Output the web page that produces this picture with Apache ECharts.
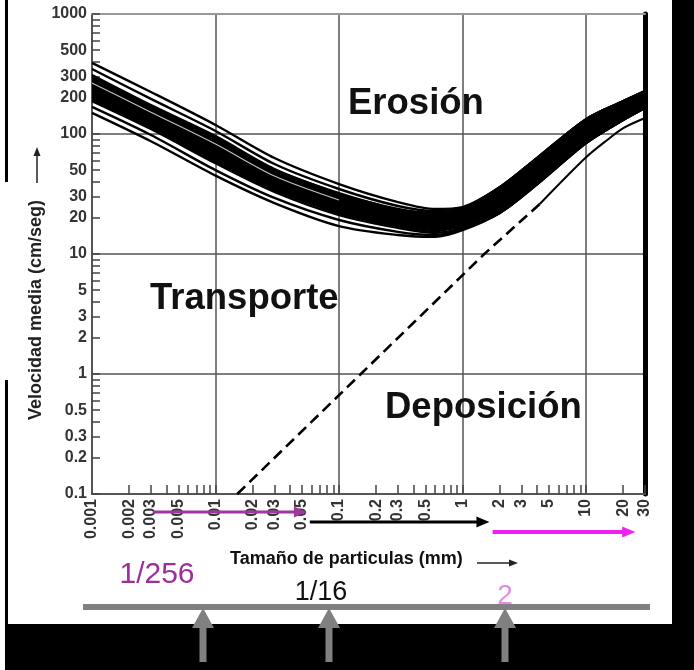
<!DOCTYPE html>
<html><head><meta charset="utf-8">
<script src="https://cdn.jsdelivr.net/npm/echarts@6/dist/echarts.min.js"></script>
<style>html,body{margin:0;padding:0;background:#fff}#c{width:694px;height:670px}</style>
</head><body><div id="c"></div>
<script>
// ---- data (grain size mm, velocity cm/s) ----
const sizes = [0.001, 0.003, 0.01, 0.03, 0.1, 0.3, 0.6, 1, 2, 4, 10, 20, 30];
const erosionOuterTop    = [391, 224, 119, 63.1, 38.3, 27.1, 23.7, 24.6, 36, 63, 133, 188, 228];
const erosionInnerTop    = [348, 196, 106, 56.2, 34.8, 25.1, 22.8, 24.1, 36, 63, 133, 188, 228];
const erosionCoreTop     = [310, 174, 96, 51.1, 32.2, 23.7, 22.0, 23.7, 36, 63, 133, 188, 228];
const erosionCoreBottom  = [188, 110, 57, 32.9, 21.1, 16.5, 15.0, 16.5, 22, 38, 84, 131, 165];
const erosionInnerBottom = [168, 98, 50, 29.3, 19.2, 15.3, 14.4, 16.1, 22, 38, 84, 131, 165];
const erosionOuterBottom = [150, 87, 45, 26.6, 17.1, 14.4, 13.9, 15.8, 22, 38, 84, 131, 165];
// faint light line visible inside the dark core on the fine-grain side
const hairSizes = [0.001, 0.003, 0.01, 0.03, 0.1];
const hairVel   = [266, 152, 82.5, 44.7, 28.2];

const tailSizes = [4.2, 10, 15, 20, 30];
const tailVel   = [26, 64, 90, 112, 136];
const depositSizes = [0.015, 0.15, 1.5, 4.2];
const depositVel   = [0.1, 1.0, 10, 26];

const xTickValues = [0.001,0.002,0.003,0.005,0.01,0.02,0.03,0.05,0.1,0.2,0.3,0.5,1,2,3,5,10,20,30];
const xTickLabels = ['0.001','0.002','0.003','0.005','0.01','0.02','0.03','0.05','0.1','0.2','0.3','0.5','1','2','3','5','10','20','30'];
const xMinorTicks = [0.002,0.003,0.004,0.005,0.006,0.007,0.008,0.009,
  0.01,0.02,0.03,0.04,0.05,0.06,0.07,0.08,0.09,
  0.1,0.2,0.3,0.4,0.5,0.6,0.7,0.8,0.9,
  1,2,3,4,5,6,7,8,9,10,20,30];
const yTickValues = [0.1,0.2,0.3,0.5,1,2,3,5,10,20,30,50,100,200,300,500,1000];
const yTickLabels = ['0.1','0.2','0.3','0.5','1','2','3','5','10','20','30','50','100','200','300','500','1000'];
const yMinorTicks = [0.1,0.2,0.3,0.4,0.5,0.6,0.7,0.8,0.9,
  1,2,3,4,5,6,7,8,9,10,20,30,40,50,60,70,80,90,
  100,200,300,400,500,600,700,800,900,1000];

// size-class ranges shown with coloured arrows (mm)
const clayRange = [0.0031, 0.055];
const siltRange = [0.058, 1.65];
const gravelRange = [1.75, 25];

const lg = Math.log10;
const toXY = (xs, ys) => xs.map((x, i) => [lg(x), lg(ys[i])]);
const FONT = 'Liberation Sans, Arial, Helvetica, sans-serif';
const labelFmt = (vals, labels) => v => {
  const i = vals.findIndex(t => Math.abs(lg(t) - v) < 1e-6);
  return i >= 0 ? labels[i] : '';
};

const chart = echarts.init(document.getElementById('c'));
const bandLine = (name, ys, w) => ({
  name, type: 'line', data: toXY(sizes, ys), smooth: 0.3, symbol: 'none',
  lineStyle: {color: '#000', width: w}, silent: true, z: 3
});

chart.setOption({
  animation: false,
  backgroundColor: '#fff',
  grid: {left: 92, right: 49, top: 14, bottom: 176, containLabel: false, outerBoundsMode: 'none'},
  xAxis: [{
    type: 'value', min: -3, max: lg(30), position: 'bottom',
    axisLine: {onZero: false, lineStyle: {color: '#555', width: 2}},
    axisTick: {inside: true, length: 9, customValues: xMinorTicks.map(lg), lineStyle: {color: '#444', width: 1.5}},
    axisLabel: {customValues: xTickValues.map(lg), rotate: 90, margin: 5,
      formatter: labelFmt(xTickValues, xTickLabels),
      color: '#333', fontSize: 16, fontWeight: 'bold', fontFamily: FONT},
    splitLine: {show: false}
  }, {
    type: 'value', min: -3, max: lg(30), interval: 1, position: 'top',
    axisLine: {onZero: false, lineStyle: {color: '#999', width: 2}},
    axisTick: {show: false}, axisLabel: {show: false},
    splitLine: {show: true, lineStyle: {color: '#555', width: 1.5}}
  }],
  yAxis: [{
    type: 'value', min: -1, max: 3, position: 'left',
    axisLine: {onZero: false, lineStyle: {color: '#555', width: 2}},
    axisTick: {inside: true, length: 8, customValues: yMinorTicks.map(lg), lineStyle: {color: '#444', width: 1.5}},
    axisLabel: {customValues: yTickValues.map(lg), margin: 5,
      formatter: labelFmt(yTickValues, yTickLabels),
      color: '#333', fontSize: 16, fontWeight: 'bold', fontFamily: FONT},
    splitLine: {show: false}
  }, {
    type: 'value', min: -1, max: 3, interval: 1, position: 'right',
    axisLine: {show: true, onZero: false, lineStyle: {color: '#000', width: 5}},
    axisTick: {show: false}, axisLabel: {show: false},
    splitLine: {show: true, lineStyle: {color: '#555', width: 1.5}}
  }],
  series: [
    {
      type: 'custom', name: 'core', data: [[0, 1]], silent: true, z: 2,
      renderItem: (params, api) => {
        const pts = sizes.map((d, i) => api.coord([lg(d), lg(erosionCoreTop[i])]));
        for (let i = sizes.length - 1; i >= 0; i--) pts.push(api.coord([lg(sizes[i]), lg(erosionCoreBottom[i])]));
        return {type: 'polygon', shape: {points: pts}, style: {fill: '#000'}};
      }
    },
    bandLine('outerTop', erosionOuterTop, 2.4),
    bandLine('innerTop', erosionInnerTop, 2.4),
    bandLine('coreTop', erosionCoreTop, 2.4),
    bandLine('coreBottom', erosionCoreBottom, 2.4),
    bandLine('innerBottom', erosionInnerBottom, 2.4),
    bandLine('outerBottom', erosionOuterBottom, 2.4),
    {type: 'line', name: 'hair', data: toXY(hairSizes, hairVel), smooth: 0.3, symbol: 'none',
      lineStyle: {color: '#fff', width: 1.2, opacity: 0.75}, silent: true, z: 4},
    {type: 'line', name: 'tail', data: toXY(tailSizes, tailVel), smooth: 0.3, symbol: 'none',
      lineStyle: {color: '#000', width: 2}, silent: true, z: 3},
    {type: 'line', name: 'deposit', data: toXY(depositSizes, depositVel), symbol: 'none',
      lineStyle: {color: '#000', width: 2.6, type: [11, 6]}, silent: true, z: 3}
  ]
});

const px = v => chart.convertToPixel({xAxisIndex: 0}, lg(v));
function hArrow(range, y, color, w) {
  const x1 = px(range[0]), x2 = px(range[1]);
  return [
    {type: 'line', shape: {x1: x1, y1: y, x2: x2 - 8, y2: y}, style: {stroke: color, lineWidth: w}, z: 50},
    {type: 'polygon', shape: {points: [[x2, y], [x2 - 13, y - 5.5], [x2 - 13, y + 5.5]]}, style: {fill: color}, z: 50}
  ];
}
function upArrow(cx) {
  return [
    {type: 'polygon', shape: {points: [[cx, 608], [cx - 11, 628], [cx + 11, 628]]}, style: {fill: '#808080'}, z: 120},
    {type: 'rect', shape: {x: cx - 3.5, y: 626, width: 7, height: 36}, style: {fill: '#808080'}, z: 120}
  ];
}
function txt(text, x, y, size, color, weight, align, rot) {
  return {type: 'text', x: x, y: y, rotation: rot || 0, z: 60,
    style: {text: text, fill: color, fontSize: size, fontWeight: weight, fontFamily: FONT,
      textAlign: align, align: align, textVerticalAlign: 'middle', verticalAlign: 'middle'}};
}

const elements = [
  {type: 'rect', shape: {x: 672, y: 0, width: 22, height: 670}, style: {fill: '#000'}, z: 100},
  {type: 'rect', shape: {x: 5, y: 624, width: 689, height: 46}, style: {fill: '#000'}, z: 100},
  {type: 'rect', shape: {x: 5, y: 0, width: 3, height: 182}, style: {fill: '#000'}, z: 100},
  {type: 'rect', shape: {x: 5, y: 380, width: 3, height: 290}, style: {fill: '#000'}, z: 100},
  {type: 'rect', shape: {x: 83, y: 604, width: 567, height: 6}, style: {fill: '#808080'}, z: 101},
  ...upArrow(203), ...upArrow(329), ...upArrow(505),
  ...hArrow(clayRange, 512, '#a0359d', 3),
  ...hArrow(siltRange, 522, '#000', 3),
  ...hArrow(gravelRange, 532, '#f01ef0', 4),
  txt('Erosión', 348, 104, 36.5, '#111', 'bold', 'left'),
  txt('Transporte', 150, 299, 36.5, '#111', 'bold', 'left'),
  txt('Deposición', 385, 408, 36.5, '#111', 'bold', 'left'),
  txt('Tamaño de particulas (mm)', 230, 559, 18, '#111', 'bold', 'left'),
  {type: 'line', shape: {x1: 477, y1: 563, x2: 511, y2: 563}, style: {stroke: '#222', lineWidth: 1.5}, z: 60},
  {type: 'polygon', shape: {points: [[518, 563], [509, 559.5], [509, 566.5]]}, style: {fill: '#222'}, z: 60},
  txt('Velocidad media (cm/seg)', 36, 310, 18, '#222', 'bold', 'center', Math.PI / 2),
  {type: 'line', shape: {x1: 37, y1: 183, x2: 37, y2: 154}, style: {stroke: '#222', lineWidth: 1.5}, z: 60},
  {type: 'polygon', shape: {points: [[37, 147], [33.5, 156], [40.5, 156]]}, style: {fill: '#222'}, z: 60},
  txt('1/256', 157, 575, 30, '#9b2f98', 'normal', 'center'),
  txt('1/16', 321, 593, 27, '#111', 'normal', 'center'),
  txt('2', 505, 596, 28, '#e58be5', 'normal', 'center')
];
chart.setOption({graphic: {elements: elements}});
</script>
</body></html>
